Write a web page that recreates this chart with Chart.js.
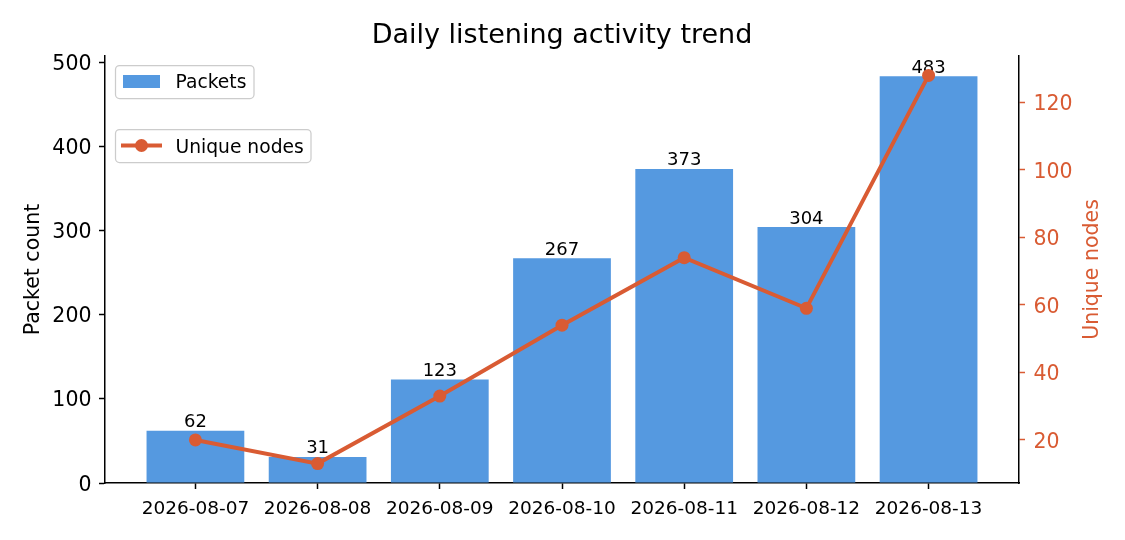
<!DOCTYPE html>
<html>
<head>
<meta charset="utf-8">
<script src="https://cdn.jsdelivr.net/npm/chart.js@4.4.1/dist/chart.umd.min.js"></script>
<style>
html,body{margin:0;padding:0;background:#ffffff;}
#wrap{width:1125px;height:540px;position:relative;}
</style>
</head>
<body>
<div id="wrap"><canvas id="c" width="1125" height="540"></canvas></div>
<script>
// ---- data ----
const dates = ['2026-08-07','2026-08-08','2026-08-09','2026-08-10','2026-08-11','2026-08-12','2026-08-13'];
const packets = [62, 31, 123, 267, 373, 304, 483];
const uniqueNodes = [20, 13, 33, 54, 74, 59, 128];
const leftTicks = [0, 100, 200, 300, 400, 500];
const rightTicks = [20, 40, 60, 80, 100, 120];
const titleText = 'Daily listening activity trend';
const leftAxisTitle = 'Packet count';
const rightAxisTitle = 'Unique nodes';
const barLabel = 'Packets';
const lineLabel = 'Unique nodes';

// ---- styles ----
const FONT = '"DejaVu Sans", "Liberation Sans", sans-serif';
const BAR = '#5599e0';
const LINE = '#d95b33';

// matplotlib-like margins
const xMin = -0.4 - 0.05 * 6.8, xMax = 6.4 + 0.05 * 6.8;
const yMax = Math.max(...packets) * 1.05;
const nMin = Math.min(...uniqueNodes), nMax = Math.max(...uniqueNodes);
const y2Min = nMin - 0.05 * (nMax - nMin), y2Max = nMax + 0.05 * (nMax - nMin);

const overlay = {
  id: 'overlay',
  afterDatasetDraw(chart, args) {
    if (args.meta.type !== 'bar') return;
    const ctx = chart.ctx;
    ctx.save();
    ctx.font = '18px ' + FONT;
    ctx.fillStyle = '#000';
    ctx.textAlign = 'center';
    ctx.textBaseline = 'alphabetic';
    args.meta.data.forEach((bar, i) => {
      ctx.fillText(String(packets[i]), bar.x, bar.y - 3.5);
    });
    ctx.restore();
  },
  afterDraw(chart) {
    const ctx = chart.ctx;
    const area = chart.chartArea;
    const sx = chart.scales.x, sy = chart.scales.y, sy2 = chart.scales.y2;
    ctx.save();
    ctx.textBaseline = 'alphabetic';
    // tick labels
    ctx.font = '20.5px ' + FONT;
    ctx.fillStyle = '#000';
    ctx.textAlign = 'right';
    leftTicks.forEach(v => ctx.fillText(String(v), 91.5, sy.getPixelForValue(v) + 7.6));
    ctx.fillStyle = LINE;
    ctx.textAlign = 'left';
    rightTicks.forEach(v => ctx.fillText(String(v), 1033.5, sy2.getPixelForValue(v) + 7.6));
    ctx.font = '18.5px ' + FONT;
    ctx.fillStyle = '#000';
    ctx.textAlign = 'center';
    dates.forEach((d, i) => ctx.fillText(d, sx.getPixelForValue(i), 513.5));

    // title
    ctx.font = '27px ' + FONT;
    ctx.fillStyle = '#000';
    ctx.textAlign = 'center';
    ctx.fillText(titleText, (area.left + area.right) / 2, 43);
    // axis titles
    const midY = (area.top + area.bottom) / 2;
    ctx.font = '20.5px ' + FONT;
    ctx.save();
    ctx.translate(38.5, midY);
    ctx.rotate(-Math.PI / 2);
    ctx.fillStyle = '#000';
    ctx.fillText(leftAxisTitle, 0, 0);
    ctx.restore();
    ctx.save();
    ctx.translate(1097.5, midY);
    ctx.rotate(-Math.PI / 2);
    ctx.fillStyle = LINE;
    ctx.fillText(rightAxisTitle, 0, 0);
    ctx.restore();

    // legends
    function box(x, y, w, h) {
      ctx.beginPath();
      ctx.roundRect(x, y, w, h, 4);
      ctx.fillStyle = 'rgba(255,255,255,0.8)';
      ctx.fill();
      ctx.lineWidth = 1.25;
      ctx.strokeStyle = '#cccccc';
      ctx.stroke();
    }
    ctx.font = '18.7px ' + FONT;
    ctx.textAlign = 'left';
    box(115.5, 65.5, 138.5, 33);
    ctx.fillStyle = BAR;
    ctx.fillRect(123, 75, 37, 13);
    ctx.fillStyle = '#000';
    ctx.fillText(barLabel, 175.5, 88);

    box(115.5, 129.5, 195.5, 33);
    ctx.strokeStyle = LINE;
    ctx.lineWidth = 4;
    ctx.beginPath();
    ctx.moveTo(121, 145.5);
    ctx.lineTo(162, 145.5);
    ctx.stroke();
    ctx.fillStyle = LINE;
    ctx.beginPath();
    ctx.arc(141.5, 145.5, 6.5, 0, Math.PI * 2);
    ctx.fill();
    ctx.fillStyle = '#000';
    ctx.fillText(lineLabel, 175.5, 152.5);
    ctx.restore();
  }
};

const tickGrid = (color) => ({
  display: true, drawOnChartArea: false, drawTicks: true,
  tickLength: 6, tickColor: color, tickWidth: 1.5, offset: false
});
const axisBorder = { display: true, color: '#000', width: 1.5 };

new Chart(document.getElementById('c'), {
  type: 'bar',
  data: {
    datasets: [
      {
        type: 'line',
        label: lineLabel,
        data: uniqueNodes.map((v, i) => ({ x: i, y: v })),
        xAxisID: 'x',
        yAxisID: 'y2',
        borderColor: LINE,
        backgroundColor: LINE,
        borderWidth: 4,
        pointRadius: 6.5,
        pointHoverRadius: 6.5,
        pointBackgroundColor: LINE,
        pointBorderWidth: 0,
        tension: 0,
        fill: false,
        order: 0
      },
      {
        type: 'bar',
        label: barLabel,
        data: packets.map((v, i) => ({ x: i, y: v })),
        xAxisID: 'x',
        yAxisID: 'y',
        backgroundColor: BAR,
        borderWidth: 0,
        barPercentage: 0.8,
        categoryPercentage: 1.0,
        order: 1
      }
    ]
  },
  options: {
    responsive: false,
    animation: false,
    layout: { padding: { top: 56, left: 0, right: 0, bottom: 0 } },
    plugins: { legend: { display: false }, title: { display: false }, tooltip: { enabled: false } },
    events: [],
    scales: {
      x: {
        type: 'linear', position: 'bottom', min: xMin, max: xMax, bounds: 'data', offset: false,
        afterBuildTicks: (s) => { s.ticks = dates.map((d, i) => ({ value: i })); },
        afterFit: (s) => { s.height = 57; },
        ticks: { display: false, autoSkip: false, maxRotation: 0 },
        grid: tickGrid('#000'),
        border: axisBorder
      },
      y: {
        type: 'linear', position: 'left', min: 0, max: yMax, bounds: 'data',
        afterBuildTicks: (s) => { s.ticks = leftTicks.map(v => ({ value: v })); },
        afterFit: (s) => { s.width = 105; },
        ticks: { display: false },
        grid: tickGrid('#000'),
        border: axisBorder
      },
      y2: {
        type: 'linear', position: 'right', min: y2Min, max: y2Max, bounds: 'data',
        afterBuildTicks: (s) => { s.ticks = rightTicks.map(v => ({ value: v })); },
        afterFit: (s) => { s.width = 106; },
        ticks: { display: false },
        grid: tickGrid(LINE),
        border: axisBorder
      }
    }
  },
  plugins: [overlay]
});
</script>
</body>
</html>
